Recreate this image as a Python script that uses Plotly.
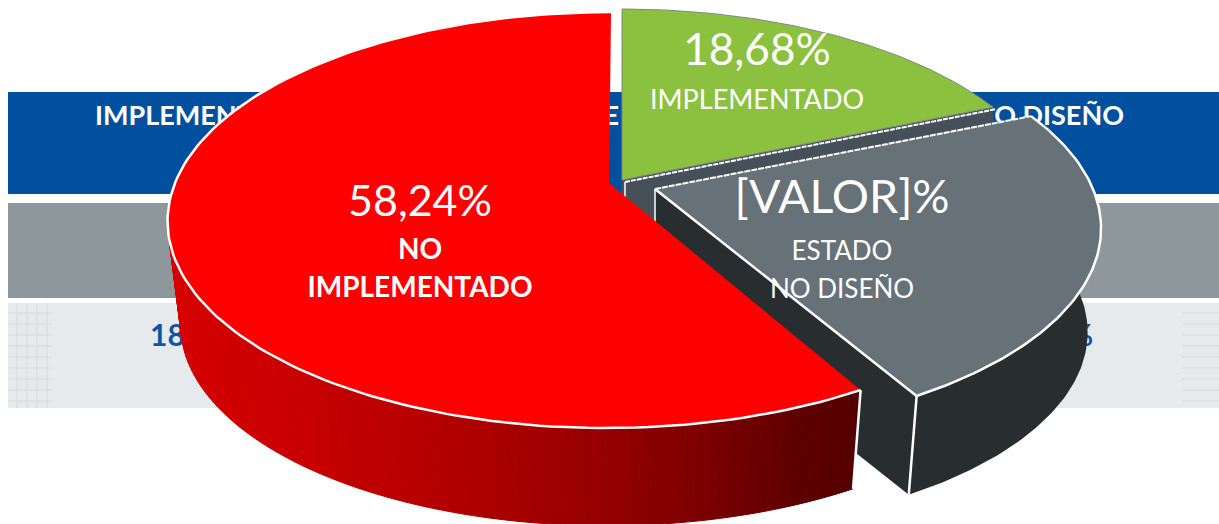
import numpy as np
import plotly.graph_objects as go

# ---------- data ----------
categories = ["IMPLEMENTADO", "ESTADO NO DISEÑO", "NO IMPLEMENTADO"]
values = [18.68, 23.08, 58.24]
value_labels = ["18,68%", "[VALOR]%", "58,24%"]
table_headers = ["IMPLEMENTADO", "NO IMPLEME", "ESTADO NO DISEÑO"]
table_values = ["18,68%", "58,24%", "23,08%"]

# ---------- style / geometry ----------
W, H = 1219, 524
KY, P, S, D = 201.4, 0.178, 0.97, 105
GEOM = [
    dict(x0=622, y0=180, kx=430, shear=0.0, top="#8CC13F", side="#465059"),
    dict(x0=655, y0=189, kx=438, shear=0.025, top="#667178", side="#282E30"),
    dict(x0=609, y0=183, kx=434, shear=-0.012, top="#FE0000", side=None),
]


def proj(theta, g, bottom=False):
    t = np.radians(np.asarray(theta, float))
    X, Y = np.sin(t), -np.cos(t)
    dy = KY * Y / (1 - P * Y)
    dx = g["kx"] * X / (1 - P * Y) + g["shear"] * dy
    if bottom:
        return g["x0"] + S * dx, g["y0"] + D + S * dy
    return g["x0"] + dx, g["y0"] + dy


def poly(x, y, fill, line=None, width=0, dash=None):
    return go.Scatter(
        x=list(x), y=list(y), mode="lines", fill="toself", fillcolor=fill,
        line=dict(color=line or fill, width=width, dash=dash),
        hoverinfo="skip", showlegend=False,
    )


def stroke(x, y, width=2, dash=None, color="#FFFFFF"):
    return go.Scatter(x=list(x), y=list(y), mode="lines",
                      line=dict(color=color, width=width, dash=dash),
                      hoverinfo="skip", showlegend=False)


def text(x, y, s, size, color="#FFFFFF", bold=False, pos="middle center", font="Lato"):
    s = f"<b>{s}</b>" if bold else s
    return go.Scatter(x=[x], y=[y], text=[s], mode="text", textposition=pos,
                      textfont=dict(family=font, size=size, color=color),
                      hoverinfo="skip", showlegend=False)


edges = np.concatenate([[0], np.cumsum(values) / np.sum(values) * 360])
fig = go.Figure()

# ---------- table behind the pie ----------
shapes = []
for y0, y1, c in [(92, 194, "#0050A0"), (203, 298, "#8D979C"), (303, 408, "#E6EAED")]:
    shapes.append(dict(type="rect", x0=8, x1=W, y0=y0, y1=y1, fillcolor=c, line_width=0, layer="below"))
for y in range(313, 408, 11):
    shapes.append(dict(type="line", x0=8, x1=52, y0=y, y1=y, line=dict(color="#D6DBDF", width=1), layer="below"))
    shapes.append(dict(type="line", x0=1182, x1=W, y0=y, y1=y, line=dict(color="#D6DBDF", width=1), layer="below"))
for x in (17, 27, 37, 47):
    shapes.append(dict(type="line", x0=x, x1=x, y0=303, y1=408, line=dict(color="#D6DBDF", width=1), layer="below"))

fig.add_trace(text(95, 118, table_headers[0], 27, bold=True, pos="middle right"))
fig.add_trace(text(619, 118, table_headers[1], 27, bold=True, pos="middle left"))
fig.add_trace(text(1124, 118, table_headers[2], 27, bold=True, pos="middle left"))
fig.add_trace(text(150, 338, table_values[0], 30, color="#0F56A0", bold=True, pos="middle right"))
fig.add_trace(text(1093, 338, table_values[2], 30, color="#0F56A0", bold=True, pos="middle left"))

# ---------- green slice ----------
g = GEOM[0]
a0, a1 = edges[0], edges[1]
tx, ty = proj(a1, g)
ax, ay = g["x0"], g["y0"]
fig.add_trace(poly([ax, tx, tx, ax, ax], [ay, ty, ty + D, ay + D, ay], g["side"]))
th = np.linspace(a0, a1, 80)
x, y = proj(th, g)
fig.add_trace(poly(np.r_[ax, x, ax], np.r_[ay, y, ay], g["top"], "#7C8A80", 1))
fig.add_trace(stroke([ax + 3, tx + 3], [ay + 2, ty + 2], 2, "5px,1px"))
fig.add_trace(stroke([ax + 3, ax + 3], [ay + 2, ay + 60], 1.5))

# ---------- grey slice ----------
g = GEOM[1]
a0, a1 = edges[1], edges[2]
ax, ay = g["x0"], g["y0"]
th = np.linspace(a0, a1, 100)
x, y = proj(th, g)
xb, yb = proj(th, g, True)
fig.add_trace(poly(np.r_[x, xb[::-1]], np.r_[y, yb[::-1]], g["side"]))
fig.add_trace(poly([ax, x[-1], xb[-1], ax, ax], [ay, y[-1], yb[-1], ay + D, ay], g["side"]))
fig.add_trace(poly(np.r_[ax, x, ax], np.r_[ay, y, ay], g["top"]))
fig.add_trace(stroke([ax, x[0]], [ay, y[0]], 2, "6px,1px"))
fig.add_trace(stroke(x, y, 2.5))
fig.add_trace(stroke([x[-1], ax], [y[-1], ay], 2.5))
fig.add_trace(stroke([ax, ax], [ay, ay + 40], 1.5))
fig.add_trace(stroke([x[-1], xb[-1]], [y[-1], yb[-1]], 2.5))

# ---------- red slice ----------
g = GEOM[2]
a0, a1 = edges[2], edges[3]
ax, ay = g["x0"], g["y0"]
grad_x = [170, 300, 450, 600, 720, 800, 860]
grad_r = [214, 200, 178, 150, 120, 95, 85]
th = np.linspace(a0, 285, 110)
x, y = proj(th, g)
xb, yb = proj(th, g, True)
for i in range(len(th) - 1):
    r = int(np.interp((x[i] + x[i + 1]) / 2, grad_x, grad_r))
    fig.add_trace(poly([x[i], x[i + 1], xb[i + 1], xb[i], x[i]],
                       [y[i], y[i + 1], yb[i + 1], yb[i], y[i]],
                       f"rgb({r},0,0)", width=1))
th = np.linspace(a0, a1, 160)
x, y = proj(th, g)
fig.add_trace(poly(np.r_[ax, x, ax], np.r_[ay, y, ay], g["top"]))
fig.add_trace(stroke(x, y, 2.5))
xb0, yb0 = proj(a0, g, True)
fig.add_trace(stroke([x[0], xb0], [y[0], yb0], 2.5))

# ---------- labels ----------
fig.add_trace(text(757, 54, value_labels[0], 44))
fig.add_trace(text(757, 102, categories[0], 27))
fig.add_trace(text(842, 201, value_labels[1], 46.5))
fig.add_trace(text(842, 253, "ESTADO", 26))
fig.add_trace(text(842, 291, "NO DISEÑO", 26))
fig.add_trace(text(420, 205, value_labels[2], 43))
fig.add_trace(text(420, 252, "NO", 28, bold=True))
fig.add_trace(text(420, 290, "IMPLEMENTADO", 28, bold=True))

fig.update_layout(
    width=W, height=H, margin=dict(l=0, r=0, t=0, b=0),
    paper_bgcolor="#FFFFFF", plot_bgcolor="#FFFFFF", shapes=shapes, showlegend=False,
    xaxis=dict(range=[0, W], visible=False, fixedrange=True),
    yaxis=dict(range=[H, 0], visible=False, fixedrange=True),
)
fig.write_html("out.html", config={"displayModeBar": False},
               post_script="document.body.style.margin='0';document.body.style.overflow='hidden';")
